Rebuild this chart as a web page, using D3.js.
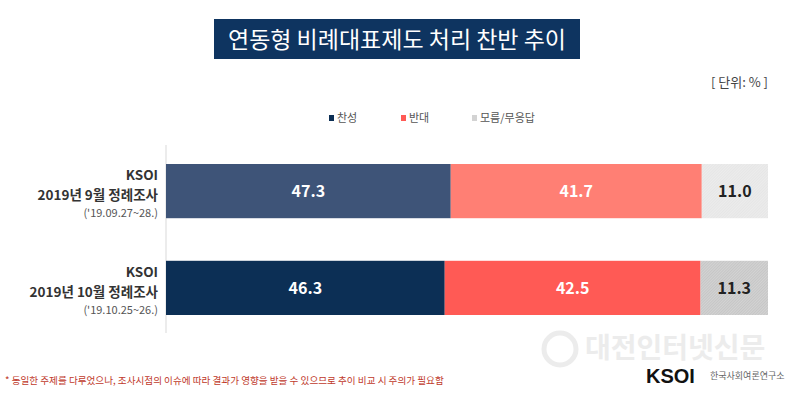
<!DOCTYPE html>
<html>
<head>
<meta charset="utf-8">
<script src="https://cdn.jsdelivr.net/npm/d3@7"></script>
<style>
  body { margin: 0; background: #fff; }
  svg { display: block; font-family: "Noto Sans CJK KR", "Noto Sans", sans-serif; }
</style>
</head>
<body>
<svg width="800" height="395"></svg>
<script>
const title = '연동형 비례대표제도 처리 찬반 추이';
const unitLabel = '[ 단위: % ]';
const seriesNames = ['찬성', '반대', '모름/무응답'];
const surveys = ['KSOI', 'KSOI'];
const surveyNames = ['2019년 9월 정례조사', '2019년 10월 정례조사'];
const surveyDates = ["('19.09.27~28.)", "('19.10.25~26.)"];
const yes = [47.3, 46.3];
const no = [41.7, 42.5];
const unsure = [11.0, 11.3];
const note = '* 동일한 주제를 다루었으나, 조사시점의 이슈에 따라 결과가 영향을 받을 수 있으므로 추이 비교 시 주의가 필요함';

// colours per row (older survey is lighter)
const colors = [
  ['#3e5478', '#ff7f74', 'url(#hatchLight)'],
  ['#0c2f55', '#ff5a55', 'url(#hatchDark)']
];
const legendColors = ['#0c2f55', '#ff5a55', '#d3d3d3'];

const svg = d3.select('svg');

// patterns for the gray bars
const defs = svg.append('defs');
function hatch(id, bg, fg) {
  const p = defs.append('pattern')
    .attr('id', id)
    .attr('width', 2).attr('height', 2)
    .attr('patternUnits', 'userSpaceOnUse')
    .attr('patternTransform', 'rotate(45)');
  p.append('rect').attr('width', 2).attr('height', 2).attr('fill', bg);
  p.append('rect').attr('width', 1).attr('height', 2).attr('fill', fg);
}
hatch('hatchLight', '#ececec', '#e6e6e6');
hatch('hatchDark', '#d3d3d3', '#c6c6c6');

// title
svg.append('rect')
  .attr('x', 214).attr('y', 19).attr('width', 366).attr('height', 40)
  .attr('fill', '#0e3460');
svg.append('text')
  .attr('x', 397).attr('y', 47.5)
  .attr('text-anchor', 'middle')
  .attr('fill', '#fff')
  .attr('font-size', 23)
  .text(title);

svg.append('text')
  .attr('x', 768).attr('y', 87)
  .attr('text-anchor', 'end')
  .attr('fill', '#444')
  .attr('font-size', 13)
  .text(unitLabel);

// legend
const legendX = [329, 401, 472];
const legend = svg.selectAll('.legend')
  .data(seriesNames)
  .join('g')
  .attr('class', 'legend')
  .attr('transform', (d, i) => `translate(${legendX[i]},122)`);
legend.append('rect')
  .attr('x', 0).attr('y', -7).attr('width', 5).attr('height', 6)
  .attr('fill', (d, i) => legendColors[i]);
legend.append('text')
  .attr('x', 8).attr('y', 0)
  .attr('fill', '#555')
  .attr('font-size', 11)
  .text(d => d);

// scales
const x = d3.scaleLinear().domain([0, 100]).range([166, 768]);
const y = d3.scaleBand().domain(d3.range(surveys.length)).range([164, 315]).paddingInner(0.44).paddingOuter(0);

svg.append('line')
  .attr('x1', 166).attr('x2', 166)
  .attr('y1', 145).attr('y2', 333)
  .attr('stroke', '#d9d9d9');

const rows = surveys.map((s, i) => {
  const vals = [yes[i], no[i], unsure[i]];
  let acc = 0;
  return vals.map((v, j) => {
    const seg = { row: i, col: j, v, x0: acc, x1: acc + v };
    acc += v;
    return seg;
  });
});

const row = svg.selectAll('.row')
  .data(rows)
  .join('g')
  .attr('class', 'row');

row.selectAll('rect')
  .data(d => d)
  .join('rect')
  .attr('x', d => x(d.x0))
  .attr('y', d => y(d.row))
  .attr('width', d => Math.min(x(d.x1), 768) - x(d.x0))
  .attr('height', y.bandwidth())
  .attr('fill', d => colors[d.row][d.col]);

row.selectAll('text')
  .data(d => d)
  .join('text')
  .attr('x', d => (x(d.x0) + Math.min(x(d.x1), 768)) / 2)
  .attr('y', d => y(d.row) + y.bandwidth() / 2 + 6)
  .attr('text-anchor', 'middle')
  .attr('font-size', 16)
  .attr('font-weight', 'bold')
  .attr('fill', d => d.col === 2 ? '#222' : '#fff')
  .text(d => d.v.toFixed(1));

// category labels
const cat = svg.selectAll('.cat')
  .data(surveys)
  .join('g')
  .attr('class', 'cat')
  .attr('transform', (d, i) => `translate(158,${y(i) + y.bandwidth() / 2})`);
cat.append('text')
  .attr('y', -11).attr('text-anchor', 'end')
  .attr('font-size', 13.5).attr('font-weight', 'bold').attr('fill', '#333')
  .text(d => d);
cat.append('text')
  .attr('y', 9).attr('text-anchor', 'end')
  .attr('font-size', 13.5).attr('font-weight', 'bold').attr('fill', '#333')
  .text((d, i) => surveyNames[i]);
cat.append('text')
  .attr('y', 26).attr('text-anchor', 'end')
  .attr('font-size', 11).attr('fill', '#555')
  .text((d, i) => surveyDates[i]);

// watermark + logo
svg.append('circle')
  .attr('cx', 560).attr('cy', 349).attr('r', 16)
  .attr('fill', 'none').attr('stroke', '#ececec').attr('stroke-width', 5);
svg.append('text')
  .attr('x', 585).attr('y', 358)
  .attr('font-size', 28).attr('font-weight', 'bold')
  .attr('fill', '#ececec')
  .text('대전인터넷신문');
svg.append('text')
  .attr('x', 646).attr('y', 383)
  .attr('font-size', 20).attr('font-weight', 'bold')
  .attr('font-family', 'Arial, "Liberation Sans", sans-serif')
  .attr('fill', '#111')
  .text('KSOI');
svg.append('text')
  .attr('x', 710).attr('y', 379)
  .attr('font-size', 9)
  .attr('fill', '#666')
  .text('한국사회여론연구소');

// footnote
svg.append('text')
  .attr('x', 5).attr('y', 384)
  .attr('font-size', 9.6)
  .attr('fill', '#c0392b')
  .text(note);
</script>
</body>
</html>
